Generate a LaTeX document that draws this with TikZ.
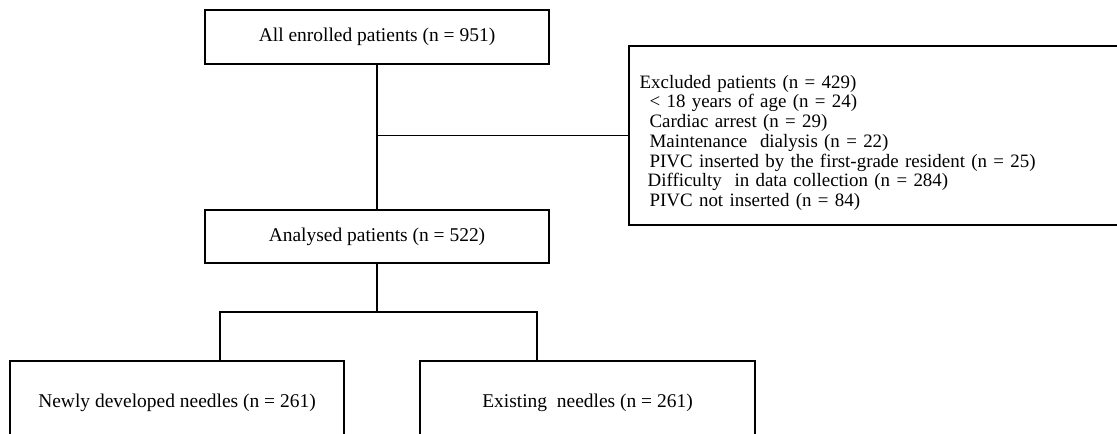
\documentclass[tikz,border=0pt]{standalone}
\usepackage{fontspec}
\setmainfont{Liberation Serif}
\usetikzlibrary{positioning}

\begin{document}
\begin{tikzpicture}[
  x=0.75pt,y=-0.75pt,
  font=\fontsize{14.6}{14.8}\selectfont,
  box/.style={draw,line width=1.4pt,inner sep=0pt},
  link/.style={line width=1.1pt}]
\clip (0,0) rectangle (1117,434);
\node[box,minimum width=258pt,minimum height=40.5pt] (enrolled) at (377,37)
  {All enrolled patients (n = 951)};
\node[box,minimum width=258pt,minimum height=39.75pt] (analysed) at (377,236.5)
  {Analysed patients (n = 522)};
\node[box,anchor=north west,align=left,text width=356pt,inner xsep=8pt,
  minimum height=134.25pt,font=\fontsize{14.2}{14.8}\selectfont] (excluded) at (628,45)
  {\rule{0pt}{21pt}Excluded patients (n = 429)\\
   \hspace*{7.5pt}\textless{} 18 years of age (n = 24)\\
   \hspace*{7.5pt}Cardiac arrest (n = 29)\\
   \hspace*{7.5pt}Maintenance\ \ dialysis (n = 22)\\
   \hspace*{7.5pt}PIVC inserted by the first-grade resident (n = 25)\\
   \hspace*{6pt}Difficulty\ \ in data collection (n = 284)\\
   \hspace*{7.5pt}PIVC not inserted (n = 84)};
\node[box,minimum width=250.5pt,minimum height=63pt] (newneedle) at (177,403)
  {Newly developed needles (n = 261)};
\node[box,minimum width=251.25pt,minimum height=63pt] (oldneedle) at (587.5,403)
  {Existing\ \ needles (n = 261)};

\coordinate (split) at (377,312);
\coordinate (leftarm) at (220,312);
\coordinate (rightarm) at (537,312);
\draw[link] (enrolled) -- (analysed);
\draw[link] (enrolled |- excluded.west) -- (excluded.west);
\draw[link] (analysed) -- (split);
\draw[link] (leftarm |- newneedle.north) -- (leftarm) -- (rightarm)
  -- (rightarm |- oldneedle.north);
\end{tikzpicture}
\end{document}
